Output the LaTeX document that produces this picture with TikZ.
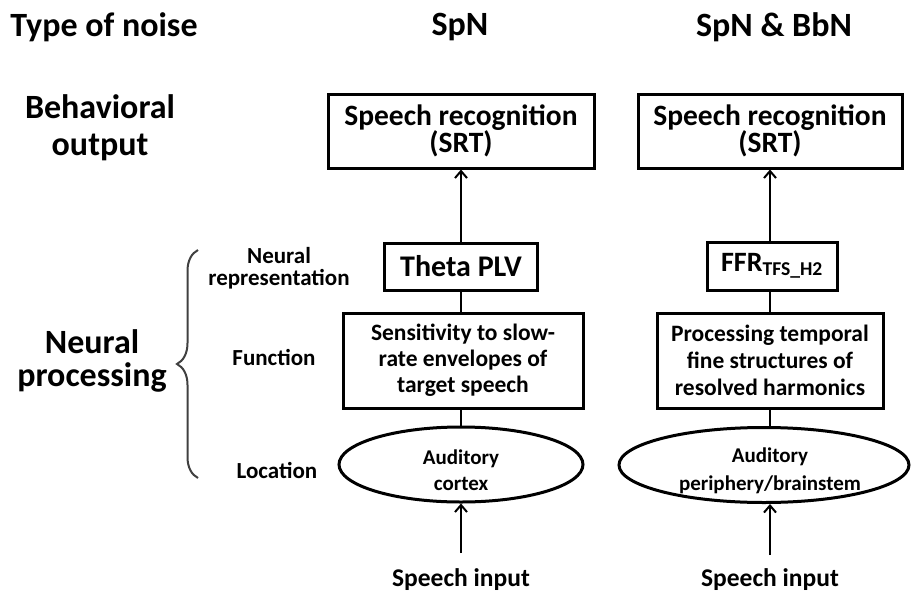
\documentclass[tikz,border=0pt]{standalone}
\usepackage{fontspec}
\setmainfont{Carlito}
\usetikzlibrary{arrows.meta,shapes.geometric,decorations.pathreplacing}
\newcommand{\fsz}[2]{\fontsize{#1}{#2}\selectfont}
\begin{document}
\begin{tikzpicture}[x=1pt,y=-1pt,
  txt/.style={align=center,inner sep=0pt},
  hdr/.style={txt,font=\bfseries\fsz{34}{37}},
  lbl/.style={txt,font=\bfseries\fsz{23}{22.5}},
  boxn/.style={draw,line width=3pt,rectangle,inner sep=0pt,align=center},
  elln/.style={draw,line width=3pt,ellipse,inner sep=0pt,align=center},
  conn/.style={line width=2pt},
  arr/.style={line width=2pt,-{Straight Barb[length=7pt,width=12pt,line width=2pt]}}
]
\useasboundingbox (0,0) rectangle (911,592);
% headers
\node[hdr] (h1) at (104,27) {Type of noise};
\node[hdr] (h2) at (460,27) {SpN};
\node[hdr] (h3) at (774,27) {SpN \& BbN};
\node[hdr] (beh) at (100,128) {Behavioral\\output};
\node[hdr,font=\bfseries\fsz{34}{33}] (np) at (92,361) {Neural\\processing};
% row labels
\node[lbl] (lnr) at (279,268) {Neural\\representation};
\node[lbl] (lfn) at (274,357) {Function};
\node[lbl] (llc) at (277,470) {Location};
% brace
\draw[line width=2pt,color=black!75,decorate,decoration={brace,amplitude=21pt}] (198,478) -- (198,250);
% column 1
\node[boxn,minimum width=266pt,minimum height=74pt,font=\bfseries\fsz{29.5}{27}] (srt1) at (461,131) {Speech recognition\\(SRT)};
\node[boxn,minimum width=153pt,minimum height=47pt,font=\bfseries\fsz{30}{30}] (theta) at (461,266.5) {Theta PLV};
\node[boxn,minimum width=240pt,minimum height=95pt,font=\bfseries\fsz{23.5}{26}] (sens) at (463,360.5) {Sensitivity to slow-\\rate envelopes of\\target speech};
\node[elln,minimum width=244pt,minimum height=75pt] (ell1) at (461,464.5) {};
\node[txt,font=\bfseries\fsz{21}{26}] (t1) at (461,470) {Auditory\\cortex};
\node[txt,font=\bfseries\fsz{25.5}{28}] (in1) at (461,580) {Speech input};
% column 2
\node[boxn,minimum width=264pt,minimum height=74pt,font=\bfseries\fsz{29.5}{27}] (srt2) at (770,131) {Speech recognition\\(SRT)};
\node[boxn,minimum width=130pt,minimum height=48pt,font=\bfseries\fsz{28}{30}] (ffr) at (772,266) {FFR\textsubscript{TFS\_H2}};
\node[boxn,minimum width=226pt,minimum height=95pt,font=\bfseries\fsz{23.5}{27}] (proc) at (770,360.5) {Processing temporal\\fine structures of\\resolved harmonics};
\node[elln,minimum width=290pt,minimum height=75pt] (ell2) at (764,465) {};
\node[txt,font=\bfseries\fsz{21}{28}] (t2) at (770,471) {Auditory\\periphery/brainstem};
\node[txt,font=\bfseries\fsz{25.5}{28}] (in2) at (770,580) {Speech input};
% connectors
\draw[arr] (theta.north) -- (theta.north |- srt1.south);
\draw[conn] (theta.south) -- (theta.south |- sens.north);
\draw[conn] (theta.south |- sens.south) -- (theta.south |- ell1.north);
\coordinate (s1) at (461,553);
\draw[arr] (s1) -- (s1 |- ell1.south);
\draw[arr] (srt2.south |- ffr.north) -- (srt2.south);
\draw[conn] (proc.north |- ffr.south) -- (proc.north);
\draw[conn] (proc.south) -- (proc.south |- ell2.north);
\coordinate (s2) at (770,555);
\draw[arr] (s2) -- (s2 |- ell2.south);
\end{tikzpicture}
\end{document}
